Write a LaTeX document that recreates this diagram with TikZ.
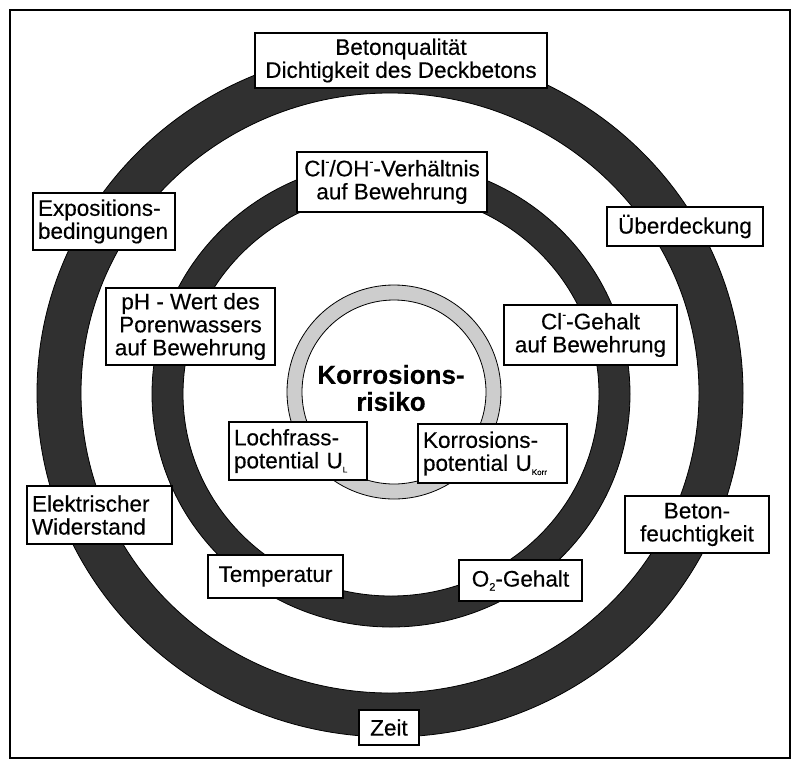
\documentclass[tikz,border=0pt]{standalone}
\usepackage{fontspec}
\setmainfont{Liberation Sans}[FakeBold=0.3]
\newfontfamily\boldlab{Liberation Sans}[FakeBold=0.3]
\definecolor{ringdark}{RGB}{48,48,48}
\definecolor{ringlight}{RGB}{205,205,205}
\newcommand{\smallsub}[1]{\raisebox{-0.35ex}{\fontsize{8}{8}\selectfont #1}}
\newcommand{\minus}{\raisebox{0.9ex}{\fontsize{12}{12}\selectfont -}}
\begin{document}
\begin{tikzpicture}[x=1pt,y=-1pt,
  lbl/.style={draw=black, line width=1.1pt, fill=white, inner sep=0pt,
    font=\fontsize{22.5}{23}\selectfont, align=center},
  lbll/.style={draw=black, line width=1.1pt, fill=white, inner ysep=0pt, inner xsep=5pt,
    font=\fontsize{22.5}{23}\selectfont, align=left},
  ring/.style={even odd rule, draw=black, line width=0.8pt}]
\useasboundingbox (0,0) rectangle (795,764);
\draw[line width=1.5pt] (10,10) rectangle (790,758);
% rings
\coordinate (co) at (390,393);
\coordinate (ci) at (391,394);
\coordinate (cg) at (394,392);
\fill[ring, fill=ringdark] (co) ellipse [x radius=353pt, y radius=344pt]
  (co) ellipse [x radius=309pt, y radius=300pt];
\fill[ring, fill=ringdark] (ci) ellipse [x radius=239pt, y radius=233pt]
  (ci) ellipse [x radius=208pt, y radius=202pt];
\fill[ring, fill=ringlight] (cg) circle [radius=107pt] (cg) circle [radius=92pt];
% centre
\node[font=\bfseries\fontsize{26}{27}\selectfont, align=center] (risk) at (391,388) {Korrosions-\\risiko};
% labels
\node[lbl, minimum width=292pt, minimum height=55pt] (beton) at (401,60.5)
  {Betonqualität\\Dichtigkeit des Deckbetons};
\node[lbl, minimum width=190pt, minimum height=60pt] (cloh) at (392,182)
  {Cl\minus/OH\minus-Verhältnis\\auf Bewehrung};
\node[lbll, text width=132pt, minimum height=57pt] (expo) at (104,221.5)
  {Expositions-\\bedingungen};
\node[lbl, minimum width=156pt, minimum height=39pt] (ueber) at (685,226.5)
  {Überdeckung};
\node[lbl, minimum width=169pt, minimum height=77pt] (ph) at (190.5,326.5)
  {pH - Wert des\\Porenwassers\\auf Bewehrung};
\node[lbl, minimum width=173pt, minimum height=60pt] (clg) at (590.5,335)
  {Cl\minus-Gehalt\\auf Bewehrung};
\node[lbll, text width=128pt, minimum height=58pt] (loch) at (298,451)
  {Lochfrass-\\potential U\smallsub{L}};
\node[lbll, text width=139pt, minimum height=59pt] (korr) at (492.5,453.5)
  {Korrosions-\\potential U\smallsub{Korr}};
\node[lbll, text width=135pt, minimum height=58pt] (elek) at (99.5,515)
  {Elektrischer\\Widerstand};
\node[lbl, minimum width=135pt, minimum height=43pt] (temp) at (275.5,576.5)
  {Temperatur};
\node[lbl, minimum width=123pt, minimum height=41pt] (otwo) at (520.5,580.5)
  {O\raisebox{-0.35ex}{\fontsize{11}{11}\selectfont 2}-Gehalt};
\node[lbl, minimum width=144pt, minimum height=57pt] (feucht) at (697,524.5)
  {Beton-\\feuchtigkeit};
\node[lbl, minimum width=60pt, minimum height=35pt] (zeit) at (389,727.5)
  {Zeit};
\end{tikzpicture}
\end{document}
